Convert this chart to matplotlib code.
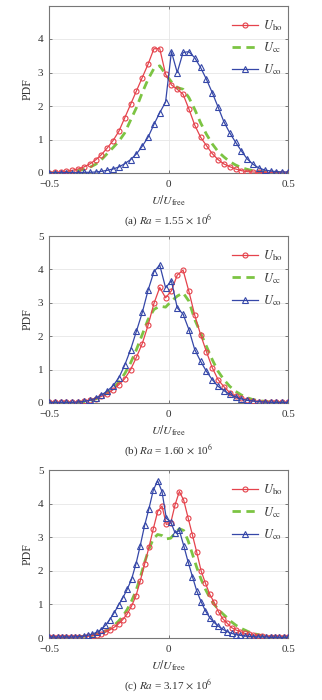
import numpy as np
import matplotlib
matplotlib.use('Agg')
import matplotlib.pyplot as plt

# bin centres of the PDFs
x_ab = np.linspace(-0.5, 0.5, 42)
x_c = np.linspace(-0.5, 0.5, 56)

# (a) Ra = 1.55e6
ho_a = [0.01, 0.02, 0.03, 0.05, 0.08, 0.12, 0.18, 0.27, 0.39, 0.55, 0.75, 0.97, 1.25, 1.65, 2.05, 2.45, 2.85, 3.25, 3.71, 3.71,
        2.95, 2.63, 2.5, 2.35, 1.91, 1.43, 1.07, 0.82, 0.58, 0.4, 0.27, 0.19, 0.12, 0.07, 0.04, 0.03, 0.02, 0.01, 0.01, 0.01, 0.0, 0.0]
cc_a = [0.0, 0.01, 0.01, 0.02, 0.04, 0.07, 0.11, 0.17, 0.26, 0.4, 0.58, 0.76, 0.95, 1.2, 1.58, 1.95, 2.4, 2.8, 3.12, 3.2,
        2.95, 2.72, 2.55, 2.5, 2.25, 1.9, 1.5, 1.16, 0.87, 0.64, 0.48, 0.34, 0.24, 0.16, 0.11, 0.07, 0.04, 0.03, 0.02, 0.01, 0.01, 0.0]
co_a = [0.01, 0.01, 0.01, 0.01, 0.01, 0.01, 0.02, 0.02, 0.03, 0.05, 0.08, 0.12, 0.18, 0.28, 0.4, 0.57, 0.8, 1.07, 1.45, 1.8,
        2.12, 3.62, 3.0, 3.6, 3.62, 3.44, 3.15, 2.8, 2.4, 1.97, 1.53, 1.2, 0.92, 0.66, 0.42, 0.26, 0.15, 0.09, 0.06, 0.04, 0.03, 0.03]

# (b) Ra = 1.60e6
ho_b = [0.02, 0.02, 0.02, 0.02, 0.02, 0.03, 0.05, 0.08, 0.12, 0.2, 0.27, 0.4, 0.55, 0.73, 1.0, 1.37, 1.78, 2.33, 2.98, 3.46,
        3.15, 3.36, 3.83, 3.98, 3.34, 2.63, 2.05, 1.54, 1.06, 0.7, 0.49, 0.31, 0.2, 0.14, 0.09, 0.06, 0.04, 0.03, 0.03, 0.02, 0.02, 0.02]
cc_b = [0.01, 0.01, 0.01, 0.01, 0.01, 0.02, 0.04, 0.07, 0.12, 0.2, 0.3, 0.45, 0.63, 0.88, 1.2, 1.6, 2.05, 2.5, 2.8, 2.9,
        2.87, 3.05, 3.2, 3.3, 3.05, 2.5, 2.1, 1.7, 1.3, 0.95, 0.7, 0.5, 0.35, 0.24, 0.16, 0.1, 0.07, 0.05, 0.03, 0.02, 0.01, 0.01]
co_b = [0.02, 0.02, 0.02, 0.02, 0.02, 0.03, 0.05, 0.08, 0.14, 0.24, 0.36, 0.52, 0.76, 1.14, 1.6, 2.15, 2.71, 3.38, 3.93, 4.13,
        3.45, 3.66, 2.85, 2.66, 2.2, 1.6, 1.25, 0.95, 0.7, 0.5, 0.37, 0.26, 0.18, 0.12, 0.08, 0.06, 0.04, 0.03, 0.02, 0.02, 0.02, 0.02]

# (c) Ra = 3.17e6
ho_c = [0.02, 0.02, 0.02, 0.02, 0.02, 0.02, 0.03, 0.03, 0.04, 0.05,
        0.07, 0.09, 0.13, 0.18, 0.24, 0.32, 0.42, 0.55, 0.72, 0.95,
        1.25, 1.7, 2.2, 2.7, 3.25, 3.76, 3.93, 3.38, 3.42, 3.96,
        4.36, 4.1, 3.58, 3.07, 2.55, 2.0, 1.63, 1.3, 1.06, 0.78,
        0.57, 0.44, 0.31, 0.24, 0.19, 0.14, 0.11, 0.09, 0.07, 0.05,
        0.04, 0.04, 0.03, 0.03, 0.02, 0.02]
cc_c = [0.01, 0.01, 0.01, 0.01, 0.02, 0.02, 0.03, 0.04, 0.05, 0.06,
        0.08, 0.11, 0.15, 0.2, 0.28, 0.38, 0.5, 0.65, 0.85, 1.1,
        1.4, 1.8, 2.25, 2.65, 2.95, 3.08, 3.05, 2.95, 2.97, 3.12,
        3.25, 3.2, 2.9, 2.5, 2.1, 1.75, 1.45, 1.2, 1.0, 0.85,
        0.72, 0.6, 0.48, 0.38, 0.3, 0.24, 0.18, 0.14, 0.1, 0.07,
        0.05, 0.04, 0.03, 0.02, 0.02, 0.01]
co_c = [0.03, 0.03, 0.03, 0.03, 0.03, 0.03, 0.03, 0.04, 0.06, 0.08,
        0.12, 0.17, 0.25, 0.38, 0.55, 0.75, 0.98, 1.2, 1.45, 1.75,
        2.2, 2.75, 3.35, 3.85, 4.4, 4.68, 4.36, 3.56, 3.46, 3.13,
        3.2, 2.75, 2.27, 1.83, 1.4, 1.08, 0.81, 0.6, 0.46, 0.35,
        0.26, 0.19, 0.14, 0.1, 0.08, 0.06, 0.05, 0.04, 0.03, 0.03,
        0.03, 0.02, 0.02, 0.02, 0.02, 0.02]

captions = [r'(a) $Ra$ = 1.55 $\times$ 10$^{6}$',
            r'(b) $Ra$ = 1.60 $\times$ 10$^{6}$',
            r'(c) $Ra$ = 3.17 $\times$ 10$^{6}$']
panels = [(x_ab, ho_a, cc_a, co_a), (x_ab, ho_b, cc_b, co_b), (x_c, ho_c, cc_c, co_c)]

plt.rcParams['font.family'] = ['Liberation Serif', 'DejaVu Serif']
plt.rcParams['mathtext.fontset'] = 'stix'

red = '#e5434c'
green = '#7cc443'
blue = '#3547a8'
txt = '#333333'

fig = plt.figure(figsize=(3.22, 7.0), dpi=100)

# axes boxes in pixels: top, bottom
boxes = [(5.5, 173), (236, 403), (470, 638)]
left, right = 49, 288

for i, ((x, ho, cc, co), (top, bot)) in enumerate(zip(panels, boxes)):
    ax = fig.add_axes([left / 322, 1 - bot / 700, (right - left) / 322, (bot - top) / 700])
    ax.plot(x, ho, '-o', color=red, lw=0.9, ms=3.6, mfc='none', mew=0.8, label=r'$U_{\mathrm{ho}}$', zorder=3)
    ax.plot(x, cc, '--', color=green, lw=2.0, dashes=(3, 2), label=r'$U_{\mathrm{cc}}$', zorder=2)
    ax.plot(x, co, '-^', color=blue, lw=0.9, ms=4.0, mfc='none', mew=0.8, label=r'$U_{\mathrm{co}}$', zorder=4)

    ax.set_xlim(-0.5, 0.5)
    ax.set_ylim(0, 5)
    ax.set_xticks([-0.5, 0, 0.5])
    ax.set_xticklabels(['\u22120.5', '0', '0.5'])
    if i == 0:
        ax.set_yticks([0, 1, 2, 3, 4])
    else:
        ax.set_yticks([0, 1, 2, 3, 4, 5])
    ax.grid(True, color='#e6e6e6', lw=0.6)
    ax.set_axisbelow(True)
    ax.tick_params(direction='in', length=2.5, width=0.6, top=True, right=True,
                   labelsize=8, colors='#666666', labelcolor=txt)
    ax.tick_params(axis='x', pad=5)
    ax.tick_params(axis='y', pad=4)
    for s in ax.spines.values():
        s.set_color('#777777')
        s.set_linewidth(0.8)

    ax.set_ylabel('PDF', fontsize=8.5, color=txt, labelpad=3)
    ax.set_xlabel(r'$U/U_{\mathrm{free}}$', fontsize=8.5, color=txt, labelpad=3)
    ax.text(0.5, -0.285, captions[i], transform=ax.transAxes, ha='center', va='center',
            fontsize=8, color=txt)

    leg = ax.legend(loc='upper right', bbox_to_anchor=(1.02, 0.985), frameon=False,
                    fontsize=9, handlelength=2.1, labelspacing=0.6, handletextpad=0.4,
                    borderpad=0.3)
    for t in leg.get_texts():
        t.set_color(txt)

fig.savefig('out.png', dpi=100)
